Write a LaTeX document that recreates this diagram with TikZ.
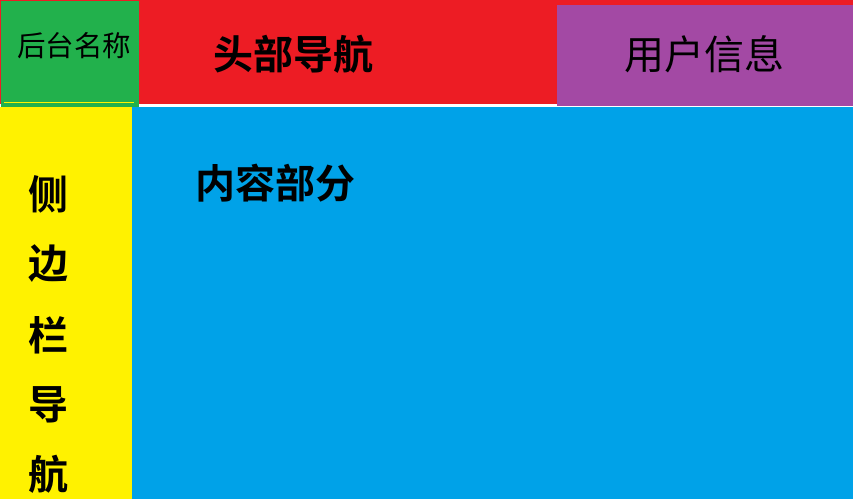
\documentclass[tikz,border=0pt]{standalone}
\usepackage{fontspec}
\setmainfont{Noto Sans CJK SC}[BoldFont={Noto Sans CJK SC Bold}]
\definecolor{cred}{HTML}{ED1C24}
\definecolor{cgreen}{HTML}{22B14C}
\definecolor{cpurple}{HTML}{A349A4}
\definecolor{cyellow}{HTML}{FFF200}
\definecolor{cblue}{HTML}{00A2E8}
\tikzset{
  lbl/.style={inner sep=0pt, anchor=center, text=black},
  bigbold/.style={lbl, font=\fontsize{40}{40}\selectfont\bfseries},
  bignorm/.style={lbl, font=\fontsize{40}{40}\selectfont},
}
\begin{document}
\begin{tikzpicture}[x=1pt,y=-1pt]
\useasboundingbox (0,0) rectangle (854,499);
\fill[white] (0,0) rectangle (854,499);
\fill[cred] (0,0) rectangle (853,104);
\fill[cgreen] (1,1) rectangle (139,107);
\draw[cyellow, line width=1pt] (4,102) -- (134,102);
\fill[cpurple] (557,5) rectangle (853,106);
\fill[cyellow] (0,107) rectangle (132,499);
\fill[cblue] (132,107) rectangle (853,499);
\node[lbl, font=\fontsize{28.5}{28.5}\selectfont] (name) at (74,46) {后台名称};
\node[bigbold] (head) at (293,54) {头部导航};
\node[bignorm] (user) at (704,54) {用户信息};
\node[bigbold] (content) at (275,183) {内容部分};
\node[bigbold] (s1) at (48,194) {侧};
\node[bigbold] (s2) at (48,264) {边};
\node[bigbold] (s3) at (48,335) {栏};
\node[bigbold] (s4) at (48,405) {导};
\node[bigbold] (s5) at (48,474) {航};
\end{tikzpicture}
\end{document}
